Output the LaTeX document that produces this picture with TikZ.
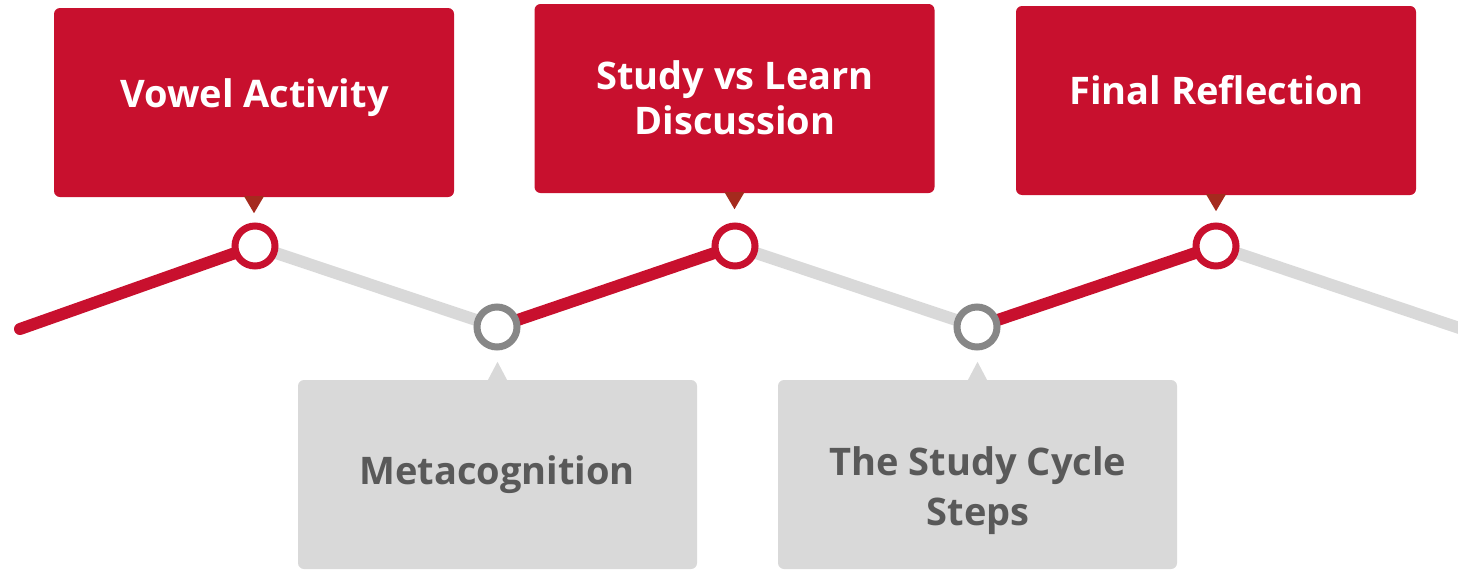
\documentclass[tikz,border=0pt]{standalone}
\usepackage{fontspec}
\setmainfont{Open Sans}
\usepackage{tikz}
\usepackage{tkz-euclide}
\usepackage{xcolor}

\definecolor{tlred}{HTML}{C8102E}
\definecolor{tldark}{HTML}{A52A1E}
\definecolor{tlgrey}{HTML}{D9D9D9}
\definecolor{tlring}{HTML}{878787}
\definecolor{tltext}{HTML}{595959}

\begin{document}
\begin{tikzpicture}[x=1pt,y=-1pt,
    redbox/.style={fill=tlred, rounded corners=6pt, minimum width=400pt, minimum height=189pt, inner sep=0pt},
    greybox/.style={fill=tlgrey, rounded corners=6pt, minimum width=399pt, minimum height=189pt, inner sep=0pt},
    boxtext/.style={font=\bfseries\fontsize{38}{45}\selectfont, align=center, inner sep=0pt},
    ring/.style={circle, fill=white, line width=7pt, minimum size=40pt, inner sep=0pt}]
    \useasboundingbox (0,0) rectangle (1458,570);
    % the zigzag
    \tkzDefPoints{20/329/P,255/246/T1,497/327/B1,735/246/T2,977/327/B2,1216/246/T3,1480/335/E}
    \tkzDrawSegments[tlgrey,line width=12pt](T1,B1 T2,B2 T3,E)
    \tkzDrawSegments[tlred,line width=12pt,line cap=round](P,T1 B1,T2 B2,T3)
    \node[ring, draw=tlred] (r1) at (T1) {};
    \node[ring, draw=tlred] (r2) at (T2) {};
    \node[ring, draw=tlred] (r3) at (T3) {};
    \node[ring, draw=tlring] (g1) at (B1) {};
    \node[ring, draw=tlring] (g2) at (B2) {};
    % top boxes
    \node[redbox] (vowel) at (254,102.5) {};
    \node[redbox] (learn) at (734.5,98.5) {};
    \node[redbox] (final) at (1216,100.5) {};
    \node[boxtext, white] (vowelt) at (254.5,98) {Vowel Activity};
    \node[boxtext, white] (learnt) at (735,98) {Study vs Learn\\Discussion};
    \node[boxtext, white] (finalt) at (1216.5,90) {Final Reflection};
    \foreach \b in {vowel,learn,final}
        \fill[tldark] (\b.south) ++(-10,-1) -- ++(20,0) -- ++(-10,17) -- cycle;
    % bottom boxes
    \node[greybox] (meta) at (497.5,474.5) {};
    \node[greybox] (cycle) at (977.5,474.5) {};
    \node[boxtext, tltext] (metat) at (497,475) {Metacognition};
    \node[boxtext, tltext] (cyclet) at (978,491) {The Study Cycle\\[5pt]Steps};
    \foreach \b in {meta,cycle}
        \fill[tlgrey] (\b.north) ++(-10,1) -- ++(20,0) -- ++(-10,-19) -- cycle;
\end{tikzpicture}
\end{document}
